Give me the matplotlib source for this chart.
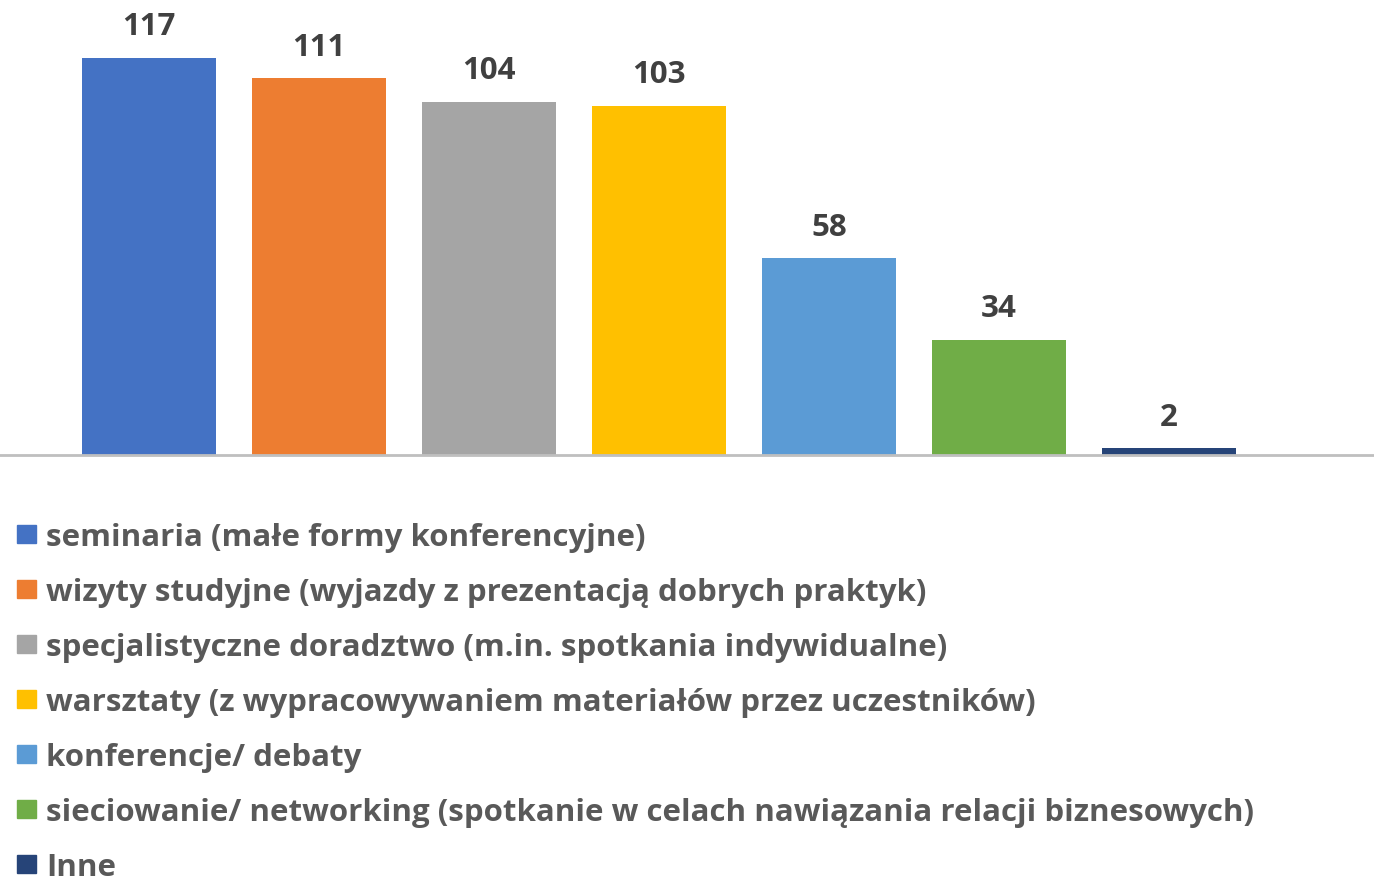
import matplotlib.pyplot as plt
from matplotlib.patches import Rectangle

categories = [
    "seminaria (małe formy konferencyjne)",
    "wizyty studyjne (wyjazdy z prezentacją dobrych praktyk)",
    "specjalistyczne doradztwo (m.in. spotkania indywidualne)",
    "warsztaty (z wypracowywaniem materiałów przez uczestników)",
    "konferencje/ debaty",
    "sieciowanie/ networking (spotkanie w celach nawiązania relacji biznesowych)",
    "Inne",
]
values = [117, 111, 104, 103, 58, 34, 2]
colors = ["#4472C4", "#ED7D31", "#A5A5A5", "#FFC000", "#5B9BD5", "#70AD47", "#264478"]

plt.rcParams['font.family'] = ['Open Sans', 'DejaVu Sans']

W, H = 1374, 878
fig = plt.figure(figsize=(W / 100, H / 100), dpi=100)

base_y = 456
ax = fig.add_axes([0, (H - base_y) / H, 1, base_y / H])
x = list(range(len(values)))
ax.bar(x, values, width=0.788, color=colors, zorder=2)
ax.set_xlim(-149 / 170, (W - 149) / 170)
ax.set_ylim(0, base_y / 3.393)
for s in ax.spines.values():
    s.set_visible(False)
ax.set_xticks([])
ax.set_yticks([])
ax.axhline(0, color="#BFBFBF", lw=2, zorder=3, clip_on=False)

for xi, v in zip(x, values):
    ax.annotate(str(v), (xi, v), xytext=(0, 12), textcoords="offset points",
                ha="center", va="bottom", fontsize=22.5, fontweight="bold",
                color="#404040")

# legend drawn by hand, one row per category
row0 = 535
step = 55
for i, (lab, c) in enumerate(zip(categories, colors)):
    yc = row0 + i * step
    fig.patches.append(Rectangle((17 / W, (H - yc - 9) / H), 19 / W, 18 / H,
                                 transform=fig.transFigure, color=c))
    fig.text(46 / W, (H - yc - 3) / H, lab, ha="left", va="center",
             fontsize=22.5, fontweight="bold", color="#595959")

fig.savefig("out.png", dpi=100)
